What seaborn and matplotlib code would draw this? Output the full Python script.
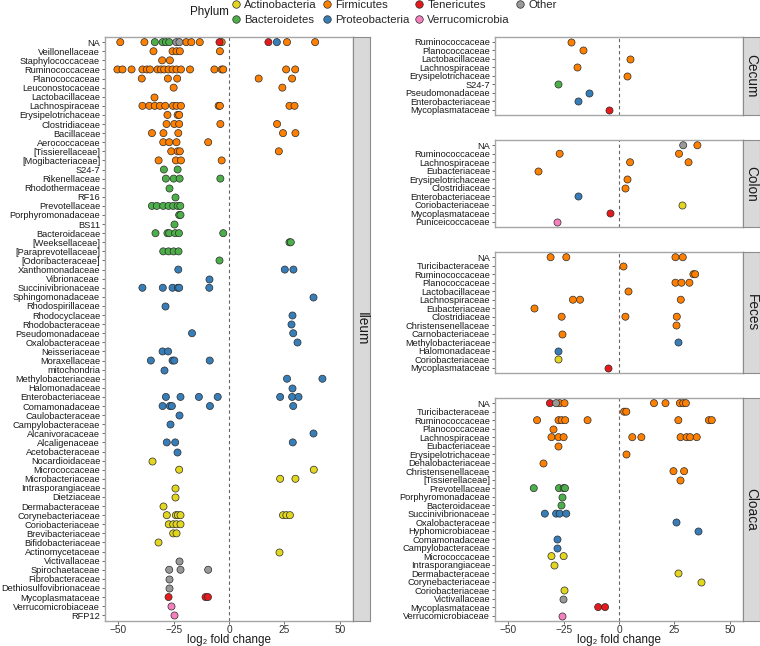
import matplotlib
matplotlib.use("Agg")
import matplotlib.pyplot as plt
import numpy as np
import pandas as pd
import seaborn as sns
from matplotlib.lines import Line2D

# ---------------- data ----------------
phylum_order = ["Actinobacteria", "Bacteroidetes", "Firmicutes", "Proteobacteria",
                "Tenericutes", "Verrucomicrobia", "Other"]
phylum_colors = ["#E2D61E", "#4DAF4A", "#FF7F00", "#377EB8", "#E41A1C", "#F781BF", "#999999"]

ileum_family = ["NA", "NA", "NA", "NA", "NA", "Veillonellaceae", "Staphylococcaceae", "Ruminococcaceae",
                "Planococcaceae", "Leuconostocaceae", "Lactobacillaceae", "Lachnospiraceae",
                "Erysipelotrichaceae", "Clostridiaceae", "Bacillaceae", "Aerococcaceae",
                "[Tissierellaceae]", "[Mogibacteriaceae]", "S24-7", "Rikenellaceae", "Rhodothermaceae",
                "RF16", "Prevotellaceae", "Porphyromonadaceae", "BS11", "Bacteroidaceae",
                "[Weeksellaceae]", "[Paraprevotellaceae]", "[Odoribacteraceae]", "Xanthomonadaceae",
                "Vibrionaceae", "Succinivibrionaceae", "Sphingomonadaceae", "Rhodospirillaceae",
                "Rhodocyclaceae", "Rhodobacteraceae", "Pseudomonadaceae", "Oxalobacteraceae",
                "Neisseriaceae", "Moraxellaceae", "mitochondria", "Methylobacteriaceae",
                "Halomonadaceae", "Enterobacteriaceae", "Comamonadaceae", "Caulobacteraceae",
                "Campylobacteraceae", "Alcanivoracaceae", "Alcaligenaceae", "Acetobacteraceae",
                "Nocardioidaceae", "Micrococcaceae", "Microbacteriaceae", "Intrasporangiaceae",
                "Dietziaceae", "Dermabacteraceae", "Corynebacteriaceae", "Coriobacteriaceae",
                "Brevibacteriaceae", "Bifidobacteriaceae", "Actinomycetaceae", "Victivallaceae",
                "Spirochaetaceae", "Fibrobacteraceae", "Dethiosulfovibrionaceae", "Mycoplasmataceae",
                "Verrucomicrobiaceae", "RFP12"]
ileum_phylum = ["Firmicutes", "Bacteroidetes", "Other", "Tenericutes", "Proteobacteria"] + \
               ["Firmicutes"] * 13 + ["Bacteroidetes"] * 11 + ["Proteobacteria"] * 21 + \
               ["Actinobacteria"] * 11 + ["Other"] * 4 + ["Tenericutes"] + ["Verrucomicrobia"] * 2
ileum_lfc = [
    [-49.1, -38.2, -19.3, -17.0, -13.2, -3.3, 26.2, 38.9],
    [-33.5, -30.0, -28.5, -27.0],
    [-23.8, -22.4],
    [-4.3, 17.8],
    [21.6],
    [-34.1, -25.5, -23.7, -22.2, -4.1],
    [-30.2, -26.7],
    [-50.4, -48.1, -44.0, -39.1, -37.1, -35.7, -32.3, -30.8, -29.3, -27.3, -25.5, -23.7, -21.7,
     -17.6, -6.6, -3.3, -2.6, 25.8, 29.9],
    [-39.4, -27.6, -23.4, 13.4, 28.5],
    [-25.0, 24.1],
    [-33.9],
    [-39.1, -36.0, -33.5, -31.2, -28.8, -25.3, -23.7, -21.7, -4.7, -4.1, 27.3, 29.6],
    [-27.8, -23.2, -22.5],
    [-28.2, -24.7, -22.5, -3.9, 21.7],
    [-34.8, -29.6, -22.9, 24.4, 30.0],
    [-29.7, -27.0, -23.7, -9.4],
    [-26.1, -23.2, -22.2, 22.5],
    [-31.8, -24.0, -21.7, -3.3],
    [-29.4, -23.2],
    [-28.5, -25.0, -22.3, -3.9],
    [-27.0],
    [-24.6],
    [-34.8, -32.6, -29.7, -27.3, -25.2, -23.2, -22.0],
    [-22.5, -21.9],
    [-24.7],
    [-33.2, -27.8, -27.0, -24.3, -22.6, -2.6],
    [27.3, 27.9],
    [-29.7, -27.3, -25.0, -22.8],
    [-4.4],
    [-22.9, 25.2, 29.1],
    [-9.0],
    [-39.1, -29.9, -25.5, -23.1, -22.5, -8.9],
    [37.9],
    [-29.1],
    [28.5],
    [27.9],
    [-16.7, 29.0],
    [30.8],
    [-30.0, -27.5],
    [-35.3, -25.5, -24.7, -8.7],
    [-29.4],
    [26.2, 42.2],
    [28.5],
    [-28.5, -21.9, -13.6, -5.1, 23.1, 28.5, 31.4],
    [-30.0, -26.7, -25.8, -8.6, 29.0],
    [-22.8],
    [-26.8],
    [37.9],
    [-28.1, -24.3, 28.8],
    [-23.5],
    [-34.8],
    [-22.5, 38.3],
    [23.1, 30.0],
    [-24.3],
    [-24.6],
    [-30.0],
    [-28.1, -24.0, -23.1, -21.9, 24.4, 25.9, 27.5],
    [-27.2, -25.2, -23.7, -21.9],
    [-25.2, -23.7],
    [-32.0],
    [22.6],
    [-22.5],
    [-27.0, -21.9, -9.4],
    [-27.1],
    [-27.1],
    [-27.3, -10.6, -9.5],
    [-26.2],
    [-24.7],
]

cecum_family = ["Ruminococcaceae", "Planococcaceae", "Lactobacillaceae", "Lachnospiraceae",
                "Erysipelotrichaceae", "S24-7", "Pseudomonadaceae", "Enterobacteriaceae",
                "Mycoplasmataceae"]
cecum_phylum = ["Firmicutes"] * 5 + ["Bacteroidetes", "Proteobacteria", "Proteobacteria", "Tenericutes"]
cecum_lfc = [[-21.6], [-16.3], [4.8], [-18.9], [3.5], [-27.6], [-13.7], [-18.4], [-4.5]]

colon_family = ["NA", "NA", "Ruminococcaceae", "Lachnospiraceae", "Eubacteriaceae",
                "Erysipelotrichaceae", "Clostridiaceae", "Enterobacteriaceae", "Coriobacteriaceae",
                "Mycoplasmataceae", "Puniceicoccaceae"]
colon_phylum = ["Other", "Firmicutes", "Firmicutes", "Firmicutes", "Firmicutes", "Firmicutes",
                "Firmicutes", "Proteobacteria", "Actinobacteria", "Tenericutes", "Verrucomicrobia"]
colon_lfc = [[29.0], [35.4], [-26.8, 27.1], [5.0, 31.4], [-36.7], [3.5], [2.9], [-18.6], [28.4],
             [-4.1], [-28.2]]

feces_family = ["NA", "Turicibacteraceae", "Ruminococcaceae", "Planococcaceae", "Lactobacillaceae",
                "Lachnospiraceae", "Eubacteriaceae", "Clostridiaceae", "Christensenellaceae",
                "Carnobacteriaceae", "Methylobacteriaceae", "Halomonadaceae", "Coriobacteriaceae",
                "Mycoplasmataceae"]
feces_phylum = ["Firmicutes"] * 10 + ["Proteobacteria", "Proteobacteria", "Actinobacteria", "Tenericutes"]
feces_lfc = [[-30.9, -23.8, 25.5, 28.8], [2.0], [33.6, 34.4], [25.5, 28.2, 31.8], [4.2],
             [-20.8, -17.6, 27.9], [-38.3], [-25.9, 2.9, 26.1], [25.8], [-25.9], [26.7], [-27.6],
             [-27.6], [-5.0]]

cloaca_family = ["NA", "NA", "NA", "Turicibacteraceae", "Ruminococcaceae", "Planococcaceae",
                 "Lachnospiraceae", "Eubacteriaceae", "Erysipelotrichaceae", "Dehalobacteriaceae",
                 "Christensenellaceae", "[Tissierellaceae]", "Prevotellaceae", "Porphyromonadaceae",
                 "Bacteroidaceae", "Succinivibrionaceae", "Oxalobacteraceae", "Hyphomicrobiaceae",
                 "Comamonadaceae", "Campylobacteraceae", "Micrococcaceae", "Intrasporangiaceae",
                 "Dermabacteraceae", "Corynebacteriaceae", "Coriobacteriaceae", "Victivallaceae",
                 "Mycoplasmataceae", "Verrucomicrobiaceae"]
cloaca_phylum = ["Tenericutes", "Firmicutes", "Other"] + ["Firmicutes"] * 9 + ["Bacteroidetes"] * 3 + \
                ["Proteobacteria"] * 5 + ["Actinobacteria"] * 5 + ["Other", "Tenericutes", "Verrucomicrobia"]
cloaca_lfc = [[-31.2], [-26.8, -24.6, 15.8, 21.0, 27.5, 29.0, 30.2], [-28.4], [2.3, 3.3],
              [-37.0, -27.3, -25.9, -24.3, -14.2, 26.8, 40.6, 41.9], [-29.6],
              [-30.5, -27.3, -25.0, 6.0, 10.1, 27.8, 30.5, 32.1, 35.1], [-27.6], [3.0], [-34.4],
              [24.6, 29.4], [27.5], [-38.5, -27.1, -25.0, -24.4], [-25.6], [-26.4],
              [-33.5, -28.4, -26.8, -23.8], [25.9], [35.9], [-28.1], [-28.1], [-30.5, -25.0],
              [-29.4], [26.7], [37.0], [-25.0], [-25.5], [-9.4, -6.3], [-25.9]]

tissues = ["Ileum", "Cecum", "Colon", "Feces", "Cloaca"]
tissue_data = {
    "Ileum": (ileum_family, ileum_phylum, ileum_lfc),
    "Cecum": (cecum_family, cecum_phylum, cecum_lfc),
    "Colon": (colon_family, colon_phylum, colon_lfc),
    "Feces": (feces_family, feces_phylum, feces_lfc),
    "Cloaca": (cloaca_family, cloaca_phylum, cloaca_lfc),
}
x_ticks = [-50, -25, 0, 25, 50]


def build_df(fam, phy, lfc):
    rows = []
    for f, p, vals in zip(fam, phy, lfc):
        for v in vals:
            rows.append((f, p, v))
    return pd.DataFrame(rows, columns=["family", "phylum", "lfc"])


# ---------------- style ----------------
sns.set_style("white")
plt.rcParams["font.family"] = ["Liberation Sans", "DejaVu Sans"]
TXT = "#1a1a1a"

W, H = 760, 646
fig = plt.figure(figsize=(W / 100, H / 100), dpi=100)


def px_axes(x0, y0, x1, y1):
    return fig.add_axes([x0 / W, 1 - y1 / H, (x1 - x0) / W, (y1 - y0) / H])


palette = dict(zip(phylum_order, phylum_colors))
TOP, BOT = 36.7, 620.7
GAP = 25.3
right_names = ["Cecum", "Colon", "Feces", "Cloaca"]
n_right = [len(dict.fromkeys(tissue_data[t][0])) for t in right_names]
unit = (BOT - TOP - 3 * GAP) / sum(n + 0.2 for n in n_right)

boxes = {"Ileum": (105, TOP, 353, BOT)}
y = TOP
for t, n in zip(right_names, n_right):
    h = (n + 0.2) * unit
    boxes[t] = (495, y, 743, y + h)
    y += h + GAP

for t in tissues:
    fam, phy, lfc = tissue_data[t]
    df = build_df(fam, phy, lfc)
    order = list(dict.fromkeys(fam))
    x0, y0, x1, y1 = boxes[t]
    ax = px_axes(x0, y0, x1, y1)
    ax.axvline(0, color="#666666", lw=0.8, ls=(0, (3, 2.5)), zorder=0)
    sns.stripplot(data=df, x="lfc", y="family", hue="phylum", order=order,
                  hue_order=phylum_order, palette=palette, jitter=False, dodge=False,
                  size=5.1, linewidth=0.5, edgecolor="#2a2a2a", legend=False, ax=ax, zorder=3)
    n = len(order)
    ax.set_ylim(n - 1 + 0.6, -0.6)
    ax.set_xlim(-56, 56)
    ax.set_xticks(x_ticks)
    ax.set_ylabel("")
    for s in ax.spines.values():
        s.set_color("#a6a6a6")
        s.set_linewidth(1.0)
    ax.tick_params(axis="y", labelsize=6.7, length=2.5, width=0.6, color="#555555",
                   pad=1.0, labelcolor=TXT, left=True)
    if t in ("Ileum", "Cloaca"):
        ax.tick_params(axis="x", labelsize=7.3, length=2.5, width=0.6, color="#555555",
                       pad=0.3, labelcolor="#333333", bottom=True)
        ax.set_xlabel("log\u2082 fold change", fontsize=8.4, color=TXT)
        hpx = y1 - y0
        ax.xaxis.set_label_coords(0.5, -(645.5 - y1) / hpx)
        ax.xaxis.label.set_va("bottom")
    else:
        ax.set_xticklabels([])
        ax.tick_params(axis="x", length=0)
        ax.set_xlabel("")
    # strip
    sax = px_axes(x1, y0, x1 + 17, y1)
    sax.set_facecolor("#d9d9d9")
    sax.set_xticks([])
    sax.set_yticks([])
    for s in sax.spines.values():
        s.set_color("#8c8c8c")
        s.set_linewidth(0.8)
    sax.text(0.5, 0.5, t, rotation=-90, ha="center", va="center", fontsize=9.8,
             color=TXT, transform=sax.transAxes)

# legend
handles = [Line2D([], [], marker="o", ls="", markersize=5.4, markerfacecolor=c,
                  markeredgecolor="#2a2a2a", markeredgewidth=0.5) for c in phylum_colors]
fig.legend(handles, phylum_order, ncol=4, loc="upper left",
           bbox_to_anchor=(229 / W, 1 + 0.5 / H), frameon=False, fontsize=8.2,
           handletextpad=0.1, columnspacing=0.3, labelspacing=0.45, borderaxespad=0,
           borderpad=0, handlelength=1.2)
fig.text(190 / W, 1 - 12.5 / H, "Phylum", fontsize=8.4, color=TXT, ha="left", va="center")

fig.savefig("out.png", dpi=100)
